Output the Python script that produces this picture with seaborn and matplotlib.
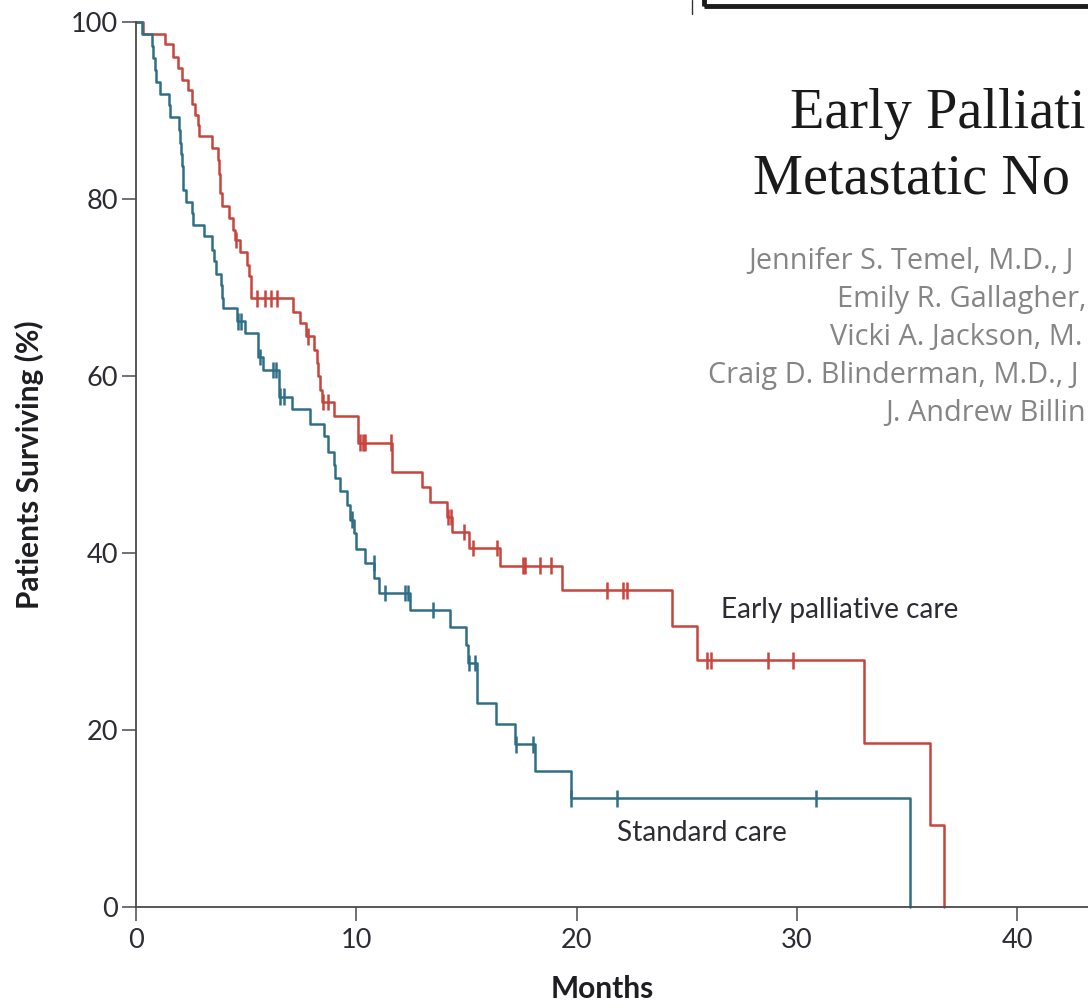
import numpy as np
import pandas as pd
import matplotlib
matplotlib.use("Agg")
import matplotlib.pyplot as plt
from matplotlib.patches import Rectangle
from matplotlib.lines import Line2D
import seaborn as sns

# Kaplan-Meier estimates: event times (months) and survival (%) after each event
early_times = [0, 0.33, 1.32, 1.66, 1.92, 2.07, 2.38, 2.53, 2.68, 2.8, 2.86, 3.44,
               3.74, 3.77, 3.8, 3.83, 3.89, 4.2, 4.42, 4.5, 4.73, 5.03, 5.15, 5.21,
               7.12, 7.45, 7.73, 8.06, 8.21, 8.28, 8.36, 8.44, 8.97, 10.06, 11.62,
               12.98, 13.36, 14.12, 14.35, 15.1, 16.52, 19.35, 24.35, 25.45,
               33.03, 36.02, 36.67]
early_surv = [100, 98.7, 97.5, 96.1, 94.8, 93.5, 92.3, 90.8, 89.5, 88.4, 87.1, 85.8,
              84.4, 82.9, 81.8, 80.7, 79.2, 77.9, 76.5, 75.4, 74.0, 72.6, 71.3, 68.8,
              67.3, 66.0, 64.5, 63.0, 61.5, 60.0, 58.5, 57.1, 55.5, 52.5, 49.2,
              47.5, 45.8, 44.1, 42.4, 40.6, 38.6, 35.8, 31.8, 27.9,
              18.6, 9.3, 0]
early_censored = [4.55, 5.49, 5.85, 6.13, 6.4, 7.83, 8.5, 8.72, 10.15, 10.29, 10.41,
                  11.58, 14.15, 14.3, 14.88, 15.3, 16.39, 17.58, 17.68, 18.33, 18.82,
                  21.39, 22.12, 22.27, 25.9, 26.09, 28.71, 29.83]

standard_times = [0, 0.26, 0.71, 0.78, 0.85, 0.92, 1.09, 1.5, 1.55, 1.97, 2.0, 2.05,
                  2.1, 2.12, 2.15, 2.26, 2.53, 2.6, 3.09, 3.44, 3.55, 3.62, 3.85,
                  3.9, 3.97, 4.6, 4.95, 5.56, 5.76, 6.47, 7.08, 7.91, 8.55, 8.7,
                  8.97, 9.05, 9.24, 9.58, 9.73, 9.88, 10.0, 10.41, 10.82, 11.02,
                  12.42, 14.27, 15.0, 15.05, 15.48, 16.32, 17.2, 18.09, 19.73, 35.15]
standard_surv = [100, 98.7, 97.3, 96.0, 94.6, 93.3, 91.9, 90.7, 89.3, 87.8, 86.4,
                 85.1, 83.8, 82.4, 81.0, 79.7, 78.4, 77.1, 75.8, 74.3, 73.0, 71.6,
                 70.3, 68.9, 67.7, 66.2, 64.9, 62.2, 60.7, 57.7, 56.3, 54.6, 53.2,
                 51.5, 50.0, 48.5, 47.0, 45.5, 43.8, 42.3, 40.5, 38.9, 37.2, 35.5,
                 33.6, 31.7, 29.6, 27.6, 23.1, 20.7, 18.4, 15.4, 12.3, 0]
standard_censored = [4.63, 4.77, 5.64, 6.21, 6.36, 6.52, 6.7, 9.8, 10.79, 11.29,
                     12.23, 12.33, 13.47, 15.1, 15.4, 17.25, 18.03, 19.76, 21.85, 30.86]

groups = ["Early palliative care", "Standard care"]
colors = {"Early palliative care": "#c8443c", "Standard care": "#2f6f86"}

x_ticks = [0, 10, 20, 30, 40]
y_ticks = [0, 20, 40, 60, 80, 100]

# header text, as far as it runs before the right edge of the page
title_lines = ["Early Palliati", "Metastatic No"]
author_lines = ["Jennifer S. Temel, M.D., J",
                "Emily R. Gallagher,",
                "Vicki A. Jackson, M.",
                "Craig D. Blinderman, M.D., J",
                "J. Andrew Billin"]

# --- assemble tidy tables -------------------------------------------------
curves = pd.concat([
    pd.DataFrame({"months": early_times, "surv": early_surv, "arm": groups[0]}),
    pd.DataFrame({"months": standard_times, "surv": standard_surv, "arm": groups[1]}),
], ignore_index=True)


def km_value(times, surv, t):
    idx = np.searchsorted(np.asarray(times), np.asarray(t), side="right") - 1
    return np.asarray(surv)[idx]


censors = pd.concat([
    pd.DataFrame({"months": early_censored,
                  "surv": km_value(early_times, early_surv, early_censored),
                  "arm": groups[0]}),
    pd.DataFrame({"months": standard_censored,
                  "surv": km_value(standard_times, standard_surv, standard_censored),
                  "arm": groups[1]}),
], ignore_index=True)

# --- styling --------------------------------------------------------------
sns.set_theme(style="ticks")
plt.rcParams["font.family"] = ["Lato", "DejaVu Sans"]
axis_grey = "#4a4a4a"
text_dark = "#2c2c34"

W, H = 1088, 1008
fig = plt.figure(figsize=(W / 100, H / 100), dpi=100)
ax = fig.add_axes([136 / W, 1 - 907.3 / H, 952 / W, 885 / H])

sns.lineplot(data=curves, x="months", y="surv", hue="arm", palette=colors,
             estimator=None, sort=False, drawstyle="steps-post", linewidth=1.8,
             legend=False, ax=ax, clip_on=False)
sns.scatterplot(data=censors, x="months", y="surv", hue="arm", palette=colors,
                marker="|", s=140, linewidth=1.8, legend=False, ax=ax,
                clip_on=False, zorder=3)

ax.set_xlim(0, 952 / 22.03)
ax.set_ylim(0, 100)
ax.set_xticks(x_ticks)
ax.set_yticks(y_ticks)
sns.despine(ax=ax)
for side in ("left", "bottom"):
    ax.spines[side].set_color(axis_grey)
    ax.spines[side].set_linewidth(1.3)
ax.tick_params(axis="both", length=10, width=1.1, color=axis_grey,
               labelsize=19.5, labelcolor=text_dark)
ax.tick_params(axis="y", pad=3)
ax.tick_params(axis="x", pad=5)

ax.set_ylabel("Patients Surviving (%)", fontsize=21.5, fontweight="bold",
              color="#1e1e22")
ax.yaxis.set_label_coords(-(136 - 44) / 952, 0.5)
ax.set_xlabel("Months", fontsize=21.5, fontweight="bold", color="#1e1e22")
ax.xaxis.set_label_coords((602 - 136) / 952, -(975 - 907.3) / 885)

# curve labels
ax.text((721 - 136) / 22.03, (907.3 - 618) / 8.85, "Early palliative care",
        fontsize=20.2, color=text_dark, ha="left", va="baseline")
ax.text((617 - 136) / 22.03, (907.3 - 841) / 8.85, "Standard care",
        fontsize=20.2, color=text_dark, ha="left", va="baseline")

# article header to the right of the plot
serif = ["Liberation Serif", "DejaVu Serif"]
fig.text(790 / W, 1 - 128 / H, title_lines[0], fontsize=40.5, family=serif,
         color="#1a1a1a", ha="left", va="baseline")
fig.text(753 / W, 1 - 193 / H, title_lines[1], fontsize=40.5, family=serif,
         color="#1a1a1a", ha="left", va="baseline")
author_x = [748, 837, 830, 708, 885]
author_y = [269, 307, 345, 383, 421]
for line, ax_px, ay_px in zip(author_lines, author_x, author_y):
    fig.text(ax_px / W, 1 - ay_px / H, line, fontsize=20.8, color="#858585",
             family=["Open Sans", "DejaVu Sans"], ha="left", va="baseline")

# frame of the header box and rule above the plot
fig.add_artist(Rectangle((704 / W, 1 - 6 / H), 500 / W, 40 / H,
                         transform=fig.transFigure, fill=False,
                         edgecolor="#1c1c1c", linewidth=3.5, clip_on=False))
fig.add_artist(Line2D([692 / W, 692 / W], [1, 1 - 14 / H],
                      transform=fig.transFigure, color="#333333", linewidth=1.0))

fig.savefig("out.png", dpi=100)
